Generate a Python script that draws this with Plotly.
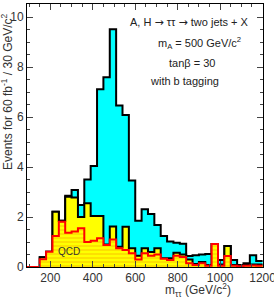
import numpy as np
import plotly.graph_objects as go

# ---- data (30 GeV bins starting at 90 GeV) ----
bin_start = 90
bin_width = 30
total = [0, 0, 0.39, 0.61, 2.21, 1.85, 2.85, 3.08, 2.48, 3.5,
         4.04, 7.11, 7.59, 9.51, 6.46, 6.08, 3.46, 1.85, 2.31, 2.12,
         1.68, 1.24, 1.02, 0.97, 0.93, 0.44, 0.47, 0.5, 0.52, 0.92,
         0.28, 0.84, 0.28, 0.08, 0.15, 0.47, 0.24]
background = [0, 0, 0.39, 0.61, 2.21, 1.85, 2.81, 2.78, 2.0, 2.55,
              2.04, 2.04, 0.9, 1.62, 0.81, 1.61, 0.75, 0.45, 0.75, 0.6,
              0.75, 0.35, 0.35, 0.57, 0.5, 0.3, 0.12, 0.2, 0.08, 0.92,
              0.1, 0.84, 0.08, 0.05, 0.08, 0.1, 0.1]
qcd = [0, 0, 0.31, 0.61, 1.24, 1.81, 1.37, 1.42, 1.55, 1.0,
       1.05, 1.15, 0.88, 1.1, 0.75, 0.68, 0.55, 0.3, 0.55, 0.45,
       0.5, 0.33, 0.28, 0.45, 0.4, 0.15, 0.08, 0.15, 0.05, 0.92,
       0.05, 0.44, 0.05, 0.03, 0.05, 0.06, 0.05]

x_ticks = [200, 400, 600, 800, 1000, 1200]
y_ticks = [0, 2, 4, 6, 8, 10]

n = len(total)
edges = bin_start + bin_width * np.arange(n + 1)


def step(vals):
    xs = list(edges)
    ys = list(vals) + [vals[-1]]
    return xs, ys


FONT = "Liberation Sans"
fig = go.Figure()

xs, ys = step(total)
fig.add_trace(go.Scatter(x=xs, y=ys, mode="lines", line_shape="hv",
                         fill="tozeroy", fillcolor="#00ffff",
                         line=dict(color="black", width=2)))
xs, ys = step(background)
fig.add_trace(go.Scatter(x=xs, y=ys, mode="lines", line_shape="hv",
                         fill="tozeroy", fillcolor="#ffff00",
                         line=dict(color="black", width=2)))
xs, ys = step(qcd)
fig.add_trace(go.Scatter(x=xs, y=ys, mode="lines", line_shape="hv",
                         fill="tozeroy",
                         fillpattern=dict(shape="-", fgcolor="#f59a00",
                                          bgcolor="#ffff00", size=4,
                                          solidity=0.3),
                         line=dict(color="#ff0000", width=2)))

fig.update_layout(
    width=274, height=300,
    margin=dict(l=27, r=11, t=4, b=33, autoexpand=False),
    paper_bgcolor="white", plot_bgcolor="white",
    showlegend=False,
    font=dict(family=FONT, size=12, color="#333"),
)
fig.update_xaxes(range=[bin_start, 1202], tickvals=x_ticks, automargin=False,
                 ticklabeloverflow="allow",
                 ticks="inside", ticklen=6, tickcolor="#444",
                 minor=dict(dtick=50, tick0=0, ticks="inside", ticklen=3,
                            tickcolor="#444"),
                 showline=True, linecolor="black", linewidth=1,
                 mirror="allticks", showgrid=False, zeroline=False,
                 tickfont=dict(size=12, color="#333"))
fig.update_yaxes(range=[0, 10.52], tickvals=y_ticks, automargin=False,
                 ticks="inside", ticklen=6, tickcolor="#444",
                 minor=dict(dtick=0.5, tick0=0, ticks="inside", ticklen=3,
                            tickcolor="#444"),
                 showline=True, linecolor="black", linewidth=1,
                 mirror="allticks", showgrid=False, zeroline=False,
                 tickfont=dict(size=12, color="#333"))

ARROW = "<span style='font-family:DejaVu Sans'>\u2192</span>"
ann = dict(showarrow=False, xanchor="center", yanchor="middle",
           font=dict(family=FONT, size=11, color="#222"))
fig.add_annotation(x=857, y=9.8,
                   text="A, H " + ARROW + " \u03c4\u03c4 " + ARROW + " two jets + X", **ann)
fig.add_annotation(x=904, y=8.96, text="m<sub>A</sub> = 500 GeV/c<sup>2</sup>", **ann)
fig.add_annotation(x=866, y=8.16, text="tan\u03b2 = 30", **ann)
fig.add_annotation(x=833, y=7.44, text="with b tagging", **ann)
fig.add_annotation(x=290, y=0.62, text="QCD", showarrow=False,
                   xanchor="center", yanchor="middle",
                   font=dict(family=FONT, size=10, color="#333"))
fig.add_annotation(xref="paper", yref="paper", x=(198 - 27) / 236,
                   y=-(290 - 267) / 263, xanchor="center", yanchor="middle",
                   text="m<sub>\u03c4\u03c4</sub> (GeV/c<sup>2</sup>)",
                   showarrow=False, font=dict(family=FONT, size=12, color="#333"))
fig.add_annotation(xref="paper", yref="paper", x=-(27 - 7) / 236,
                   y=(267 - 92) / 263, textangle=-90,
                   xanchor="center", yanchor="middle",
                   text="Events for 60 fb<sup>-1</sup> / 30 GeV/c<sup>2</sup>",
                   showarrow=False, font=dict(family=FONT, size=12, color="#333"))

fig.write_html("out.html", config={"displayModeBar": False},
               post_script="document.body.style.margin='0';document.body.style.overflow='hidden';")
